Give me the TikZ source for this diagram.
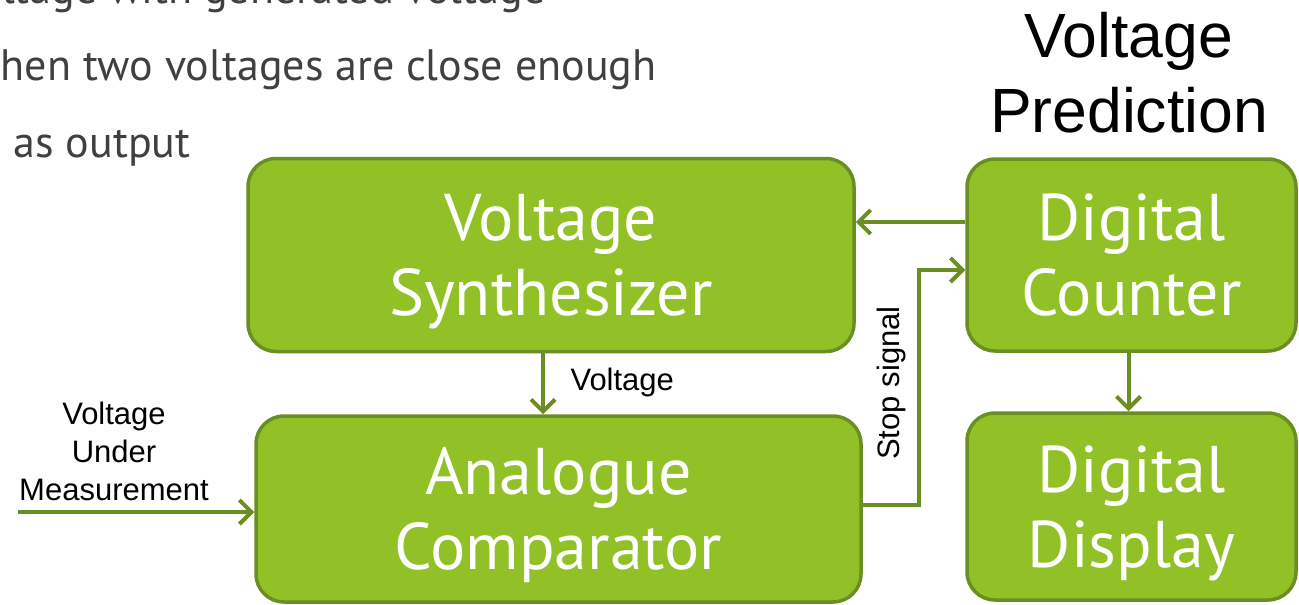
\documentclass[tikz,border=0pt]{standalone}
\usepackage{fontspec}
\setmainfont{Liberation Sans}
\newfontfamily\slidefont{PT Sans}
\usetikzlibrary{positioning,arrows.meta}
\definecolor{leaf}{RGB}{146,193,39}
\definecolor{leafedge}{RGB}{107,142,35}
\definecolor{bullet}{RGB}{64,64,64}

\begin{document}
\begin{tikzpicture}[x=1pt,y=-1pt,>={Straight Barb[length=12pt,width=24pt]},
  blk/.style={draw=leafedge,line width=3.5pt,fill=leaf,rounded corners=28pt,text=white,align=center,inner sep=0pt,
    text depth=-6pt,font=\slidefont\fontsize{66}{75}\selectfont},
  sig/.style={draw=leafedge,line width=4pt,->},
  lbl/.style={align=center,font=\fontsize{31}{38}\selectfont},
  txt/.style={text=bullet,anchor=base east,font=\slidefont\fontsize{44}{50}\selectfont}]
  \useasboundingbox (0,0) rectangle (1299,605);
  \clip (0,0) rectangle (1299,605);
  % slide text behind the figure
  \node[txt] (l1) at (549,4) {ltage with generated voltage};
  \node[txt] (l2) at (660,80) {when two voltages are close enough};
  \node[txt] (l3) at (194,157) {as output};
  % blocks
  \node[blk,minimum width=606pt,minimum height=193pt] (syn) at (551,255) {Voltage\\Synthesizer};
  \node[blk,minimum width=605pt,minimum height=186pt] (cmp) at (558.5,509) {Analogue\\Comparator};
  \node[blk,minimum width=329pt,minimum height=192pt] (cnt) at (1131.5,255) {Digital\\Counter};
  \node[blk,minimum width=329pt,minimum height=187pt] (dsp) at (1131.5,506.5) {Digital\\Display};
  \node[align=center,font=\fontsize{62.5}{75}\selectfont] (pred) at (1129,73) {Voltage\\Prediction};
  % connectors
  \coordinate (vin) at (18,512);
  \draw[sig] ([yshift=33pt]cnt.west) -- ([yshift=33pt]syn.east);
  \draw[sig] ([xshift=-8pt]syn.south) -- ([xshift=-8pt]syn.south |- cmp.north);
  \draw[sig] ([xshift=-3pt]cnt.south) -- ([xshift=-3pt]cnt.south |- dsp.north);
  \draw[sig] (vin) -- (vin -| cmp.west);
  \draw[sig] ([yshift=4pt]cmp.east) -- ++(56,0) |- ([yshift=-15pt]cnt.west);
  \node[lbl,anchor=base west] (vl) at (567,390) {Voltage};
  \node[lbl] (vum) at (114,451) {Voltage\\Under\\Measurement};
  \node[lbl,rotate=90] (stp) at (891,383) {Stop signal};
\end{tikzpicture}
\end{document}
